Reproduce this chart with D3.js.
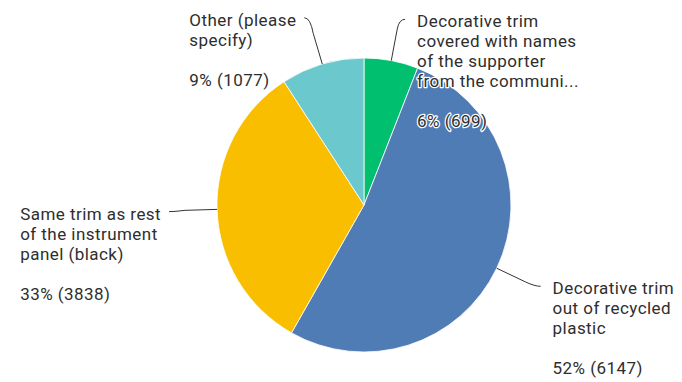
<!DOCTYPE html>
<html>
<head>
<meta charset="utf-8">
<script src="https://cdn.jsdelivr.net/npm/d3@7"></script>
<style>
  html, body { margin: 0; padding: 0; background: #fff; }
  svg { display: block; }
</style>
</head>
<body>
<div id="chart"></div>
<script>
// ---- data ----
const categories = [
  "Decorative trim covered with names of the supporter from the communi...",
  "Decorative trim out of recycled plastic",
  "Same trim as rest of the instrument panel (black)",
  "Other (please specify)"
];
const labelLines = [
  ["Decorative trim", "covered with names", "of the supporter", "from the communi..."],
  ["Decorative trim", "out of recycled", "plastic"],
  ["Same trim as rest", "of the instrument", "panel (black)"],
  ["Other (please", "specify)"]
];
const counts = [699, 6147, 3838, 1077];
const colors = ["#00bf6f", "#507cb6", "#f9be00", "#6bc8cd"];

// ---- layout ----
const W = 682, H = 382;
const cx = 364, cy = 205, R = 147;
const breakR = R + 32, kneeR = R + 42;
const lineH = 20;
const fontSize = 17;
const labelNudgeY = [0, 0, 1, -6];

const total = d3.sum(counts);
const rows = counts.map((v, i) => ({
  i, value: v, lines: labelLines[i], color: colors[i],
  pct: Math.round(v / total * 100) + "% (" + v + ")"
}));

const svg = d3.select("#chart").append("svg")
  .attr("width", W).attr("height", H);
svg.append("rect").attr("width", W).attr("height", H).attr("fill", "#fff");

const g = svg.append("g").attr("transform", `translate(${cx},${cy})`);

const pie = d3.pie().value(d => d.value).sort(null);
const arc = d3.arc().innerRadius(0).outerRadius(R);
const arcs = pie(rows);

g.selectAll("path.slice").data(arcs).join("path")
  .attr("class", "slice")
  .attr("d", arc)
  .attr("fill", d => d.data.color)
  .attr("stroke", "#ffffff")
  .attr("stroke-width", 0.8);

const pt = (a, r) => [r * Math.sin(a), -r * Math.cos(a)];

// connectors + labels
const labelG = svg.append("g").attr("transform", `translate(${cx},${cy})`);
arcs.forEach(d => {
  const a = (d.startAngle + d.endAngle) / 2;
  const side = Math.sin(a) >= 0 ? 1 : -1;
  const ny = labelNudgeY[d.data.i];
  const E = pt(a, R);
  const B = pt(a, breakR);
  const K = pt(a, kneeR);
  K[1] += ny;
  const A = [K[0] + side * 6, K[1]];
  labelG.append("path")
    .attr("d", `M${E[0]},${E[1]} L${B[0]},${B[1]} Q${K[0]},${K[1]} ${A[0]},${A[1]}`)
    .attr("fill", "none")
    .attr("stroke", "#333")
    .attr("stroke-width", 1);

  const baseY = A[1] + 8;
  const items = d.data.lines.map((ln, k) => ({ text: ln, y: baseY + k * lineH }));
  items.push({ text: d.data.pct, y: baseY + (d.data.lines.length + 1) * lineH });

  const texts = labelG.selectAll(null).data(items).join("text")
    .attr("font-family", "Roboto, sans-serif")
    .attr("font-size", fontSize)
    .attr("letter-spacing", "0.45px")
    .attr("fill", "#2e2e2e")
    .attr("stroke", "#ffffff")
    .attr("stroke-width", 2.5)
    .attr("stroke-linejoin", "round")
    .attr("paint-order", "stroke")
    .attr("x", 0)
    .attr("y", it => it.y)
    .text(it => it.text);

  let x0;
  if (side > 0) {
    x0 = A[0] + 12;
  } else {
    const w = d3.max(texts.nodes(), n => n.getComputedTextLength());
    x0 = A[0] - 8 - w;
  }
  texts.attr("x", x0);
});
</script>
</body>
</html>
